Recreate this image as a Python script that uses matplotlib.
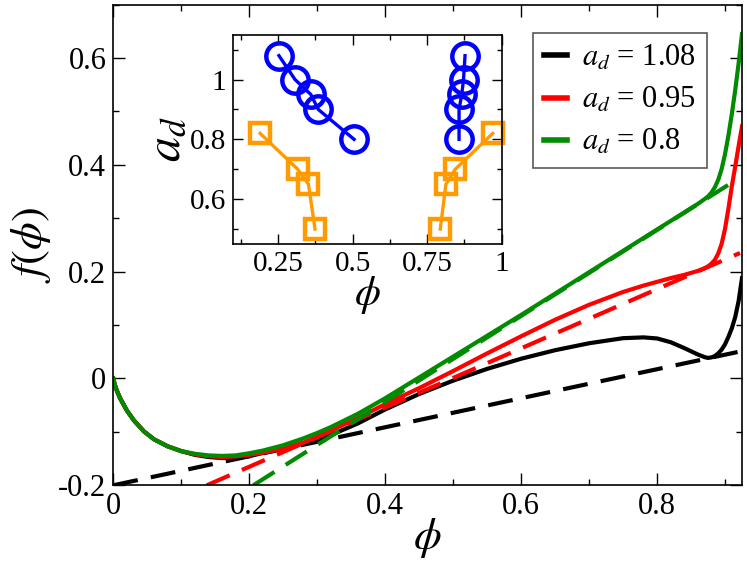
import matplotlib
matplotlib.use("Agg")
import matplotlib.pyplot as plt
from matplotlib.ticker import MultipleLocator, FuncFormatter

plt.rcParams['font.family'] = 'Liberation Serif'
plt.rcParams['mathtext.fontset'] = 'stix'
plt.rcParams['axes.unicode_minus'] = False

# main panel: free energy curves f(phi) for three a_d values
phi = [0, 0.002, 0.005, 0.01, 0.02, 0.03, 0.045, 0.06, 0.08, 0.10, 0.12, 0.14,
       0.16, 0.18, 0.20, 0.22, 0.25, 0.28, 0.30, 0.32, 0.36, 0.40, 0.45, 0.50,
       0.55, 0.60, 0.65, 0.70, 0.75, 0.78, 0.80, 0.82, 0.84, 0.86, 0.87, 0.875,
       0.88, 0.885, 0.89, 0.895, 0.90, 0.905, 0.91, 0.915, 0.92, 0.925]

f_108 = [0, -0.011, -0.022, -0.037, -0.060, -0.078, -0.099, -0.114, -0.127, -0.136,
         -0.143, -0.147, -0.149, -0.148, -0.1455, -0.1395, -0.131, -0.121, -0.113,
         -0.106, -0.084, -0.058, -0.029, -0.004, 0.018, 0.037, 0.053, 0.066, 0.0755,
         0.077, 0.075, 0.068, 0.057, 0.045, 0.040, 0.0385, 0.0395, 0.042, 0.047,
         0.054, 0.064, 0.078, 0.094, 0.115, 0.145, 0.188]

f_095 = [0, -0.011, -0.022, -0.037, -0.060, -0.078, -0.099, -0.114, -0.127, -0.136,
         -0.142, -0.1455, -0.147, -0.146, -0.143, -0.139, -0.131, -0.120, -0.1095,
         -0.0975, -0.074, -0.048, -0.018, 0.014, 0.047, 0.079, 0.110, 0.138, 0.162,
         0.174, 0.181, 0.188, 0.194, 0.2015, 0.2065, 0.210, 0.215, 0.222, 0.234,
         0.252, 0.280, 0.318, 0.360, 0.397, 0.435, 0.472]

f_080 = [0, -0.011, -0.022, -0.037, -0.060, -0.078, -0.099, -0.114, -0.127, -0.136,
         -0.141, -0.144, -0.145, -0.144, -0.140, -0.135, -0.125, -0.112, -0.102,
         -0.091, -0.066, -0.037, 0.002, 0.041, 0.080, 0.119, 0.159, 0.199, 0.239,
         0.263, 0.279, 0.295, 0.311, 0.327, 0.336, 0.341, 0.348, 0.358, 0.372,
         0.392, 0.420, 0.455, 0.495, 0.540, 0.590, 0.645]

# common tangent lines (end points)
tan_phi_108 = [0.0, 0.92]
tan_f_108 = [-0.2, 0.05]
tan_phi_095 = [0.1375, 0.922]
tan_f_095 = [-0.2, 0.235]
tan_phi_080 = [0.206, 0.9066]
tan_f_080 = [-0.2, 0.364]

labels = ['$a_d$ = 1.08', '$a_d$ = 0.95', '$a_d$ = 0.8']
colors = ['black', '#ff0000', '#008b00']

# inset: coexistence points
ad_circ = [1.08, 1.0, 0.95, 0.9, 0.8]
phi_circ_lo = [0.253, 0.307, 0.36, 0.385, 0.505]
phi_circ_hi = [0.877, 0.872, 0.866, 0.857, 0.857]
ad_sq_lo = [0.82, 0.70, 0.65, 0.50]
phi_sq_lo = [0.19, 0.316, 0.352, 0.374]
ad_sq_hi = [0.50, 0.65, 0.70, 0.82]
phi_sq_hi = [0.794, 0.813, 0.844, 0.970]

fig = plt.figure(figsize=(7.47, 5.71), dpi=100)
ax = fig.add_axes([0.15167, 0.15009, 0.84164, 0.84168])

dash = (0, (6.0, 3.2))
for fs, tp, tf, c, lab in zip([f_108, f_095, f_080],
                              [tan_phi_108, tan_phi_095, tan_phi_080],
                              [tan_f_108, tan_f_095, tan_f_080], colors, labels):
    ax.plot(tp, tf, color=c, lw=3.0, linestyle=dash)
    ax.plot(phi, fs, color=c, lw=3.0, label=lab)

ax.set_xlim(0, 0.925)
ax.set_ylim(-0.2, 0.7)
ax.xaxis.set_major_locator(MultipleLocator(0.2))
ax.xaxis.set_minor_locator(MultipleLocator(0.1))
ax.yaxis.set_major_locator(MultipleLocator(0.2))
ax.yaxis.set_minor_locator(MultipleLocator(0.1))
fmt = FuncFormatter(lambda v, p: '%g' % round(v, 3))
ax.xaxis.set_major_formatter(fmt)
ax.yaxis.set_major_formatter(fmt)
ax.tick_params(which='both', direction='in', top=True, right=True, width=1.0,
               labelsize=22)
ax.tick_params(which='major', length=8.5, pad=5)
ax.tick_params(which='minor', length=4.3)
for s in ax.spines.values():
    s.set_linewidth(1.2)
ax.set_xlabel(r'$\phi$', fontsize=32, labelpad=-4)
ax.set_ylabel(r'$f(\phi)$', fontsize=32, labelpad=4)

leg = ax.legend(loc='upper left', bbox_to_anchor=(0.714, 0.9417),
                bbox_transform=fig.transFigure, borderaxespad=0,
                fontsize=22, handlelength=0.75, handletextpad=0.5,
                labelspacing=0.42, borderpad=0.35, fancybox=False,
                framealpha=1)
leg.get_frame().set_edgecolor('0.35')
leg.get_frame().set_linewidth(1.2)
for h in leg.get_lines():
    h.set_linewidth(4)

orange = '#ff9a00'
ins = fig.add_axes([0.31232, 0.57268, 0.3593, 0.36655])
ins.plot(phi_circ_lo, ad_circ, color='#0000ff', lw=2.4, marker='o', ms=19,
         mew=3.2, mfc='none', clip_on=False)
ins.plot(phi_circ_hi, ad_circ, color='#0000ff', lw=2.4, marker='o', ms=19,
         mew=3.2, mfc='none', clip_on=False)
ins.plot(phi_sq_lo, ad_sq_lo, color=orange, lw=2.4, marker='s', ms=15,
         mew=3.2, mfc='none', clip_on=False)
ins.plot(phi_sq_hi, ad_sq_hi, color=orange, lw=2.4, marker='s', ms=15,
         mew=3.2, mfc='none', clip_on=False)
ins.set_xlim(0.1, 1.0)
ins.set_ylim(0.45, 1.15)
ins.xaxis.set_major_locator(MultipleLocator(0.25))
ins.xaxis.set_minor_locator(MultipleLocator(0.125))
ins.yaxis.set_major_locator(MultipleLocator(0.2))
ins.yaxis.set_minor_locator(MultipleLocator(0.1))
ins.xaxis.set_major_formatter(fmt)
ins.yaxis.set_major_formatter(fmt)
ins.tick_params(which='both', direction='in', top=True, right=True, width=1.0,
                labelsize=21)
ins.tick_params(which='major', length=7, pad=5)
ins.tick_params(which='minor', length=3.5)
for s in ins.spines.values():
    s.set_linewidth(1.2)
ins.set_xlabel(r'$\phi$', fontsize=30, labelpad=-2)
ins.set_ylabel(r'$a_d$', fontsize=36, labelpad=0)

fig.savefig('out.png', dpi=100)
